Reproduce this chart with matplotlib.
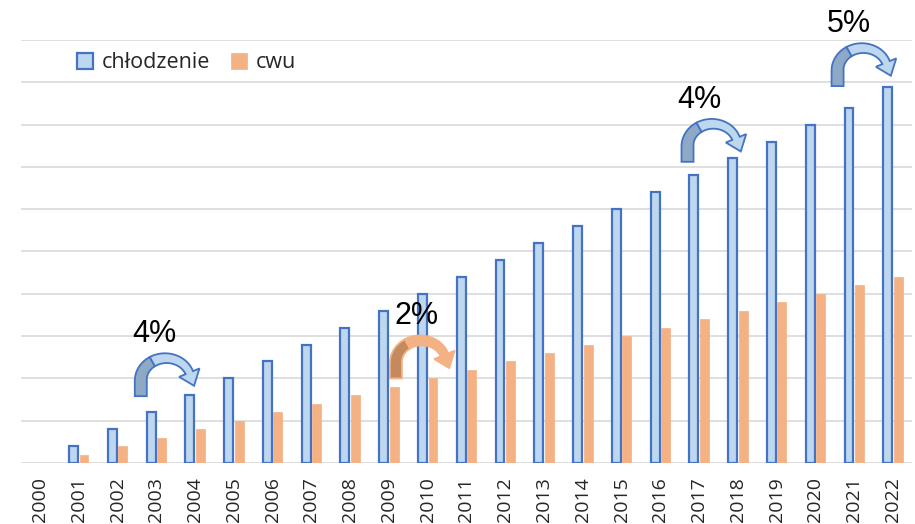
import matplotlib.pyplot as plt
import numpy as np
from matplotlib.patches import Polygon
from matplotlib.transforms import IdentityTransform

years = [str(y) for y in range(2000, 2023)]
chlodzenie = [np.nan, 0.4, 0.8, 1.2, 1.6, 2.0, 2.4, 2.8, 3.2, 3.6, 4.0, 4.4, 4.8,
              5.2, 5.6, 6.0, 6.4, 6.8, 7.2, 7.6, 8.0, 8.4, 8.9]
cwu = [np.nan, 0.2, 0.4, 0.6, 0.8, 1.0, 1.2, 1.4, 1.6, 1.8, 2.0, 2.2, 2.4,
       2.6, 2.8, 3.0, 3.2, 3.4, 3.6, 3.8, 4.0, 4.2, 4.4]

# growth annotations
growth_labels = ['4%', '2%', '4%', '5%']
growth_series = ['chl', 'cwu', 'chl', 'chl']
# where the foot of each curved arrow sits (category index, value)
arrow_x = [2.6, 9.18, 16.7, 20.57]
arrow_y = [1.58, 2.0, 7.12, 8.91]
label_dx = [14, 21, 12, 11]  # px shift of the % text from the foot

plt.rcParams['font.family'] = ['Open Sans', 'DejaVu Sans']

fig = plt.figure(figsize=(9.15, 5.24), dpi=100)
ax = fig.add_axes([20.6 / 915, 1 - 463 / 524, (912.4 - 20.6) / 915, (463 - 40) / 524])

x = np.arange(len(years))
w = 0.23
ax.bar(x - 0.135, chlodzenie, w, color='#bdd7ee', edgecolor='#4472c4', linewidth=1.6,
       label='chłodzenie', zorder=3)
ax.bar(x + 0.135, cwu, w, color='#f4b183', edgecolor='#f4b183', linewidth=0.5,
       label='cwu', zorder=3)

ax.set_xlim(-0.5, len(years) - 0.5)
ax.set_ylim(0, 10)
ax.set_yticks(np.arange(0, 11, 1))
ax.set_yticklabels([])
ax.tick_params(axis='y', length=0)
ax.set_xticks(x)
ax.set_xticklabels(years, rotation=90, fontsize=14, color='#262626')
ax.tick_params(axis='x', length=0, pad=10)
ax.grid(axis='y', color='#d9d9d9', linewidth=1.2, zorder=0)
for s in ax.spines.values():
    s.set_visible(False)

ax.legend(loc='upper left', bbox_to_anchor=(0.041, 1.017), ncol=2, frameon=False,
          fontsize=15.5, handlelength=0.75, handleheight=0.75, columnspacing=1.0,
          handletextpad=0.4, labelcolor='#262626')


def curved_arrow(fx, fy, dark, light, edge):
    # builds the curved arrow in pixels, foot bottom centre at (fx, fy)
    L, rx, ry = 16, 25, 22
    cx, cy = fx + rx, fy + L
    pts, nrm, hws = [], [], []
    for t in np.linspace(0, 1, 6):
        pts.append((fx, fy + L * t))
        nrm.append((-1.0, 0.0))
        hws.append(6.0)
    th = np.radians(np.linspace(180, 20, 40))
    for k, a in enumerate(th):
        pts.append((cx + rx * np.cos(a), cy + ry * np.sin(a)))
        n = np.array([np.cos(a) / rx, np.sin(a) / ry])
        n = n / np.hypot(*n)
        nrm.append(tuple(n))
        hws.append(6.0 - 2.0 * k / (len(th) - 1))
    pts = np.array(pts)
    nrm = np.array(nrm)
    hws = np.array(hws)
    outer = pts + nrm * hws[:, None]
    inner = pts - nrm * hws[:, None]
    a = th[-1]
    tang = np.array([np.sin(a), -np.cos(a)])
    end = pts[-1]
    n_end = nrm[-1]
    tip = end + tang * 14
    wing_o = end + n_end * 11
    wing_i = end - n_end * 11
    split = 6 + 14
    dark_poly = np.vstack([outer[:split + 1], inner[:split + 1][::-1]])
    light_poly = np.vstack([outer[split:], [wing_o, tip, wing_i], inner[split:][::-1]])
    for poly, fc in ((dark_poly, dark), (light_poly, light)):
        fig.patches.append(Polygon(poly, closed=True, facecolor=fc, edgecolor=edge,
                                   linewidth=1.3, transform=IdentityTransform(),
                                   figure=fig, zorder=5))


for lab, ser, axx, ayy, dx in zip(growth_labels, growth_series, arrow_x, arrow_y, label_dx):
    fx, fy = ax.transData.transform((axx, ayy))
    if ser == 'chl':
        curved_arrow(fx, fy, '#8ea9c6', '#bdd7ee', '#4472c4')
    else:
        curved_arrow(fx, fy, '#c48a5e', '#f4b183', '#f4b183')
    tx, ty = ax.transData.inverted().transform((fx + dx, fy + 62))
    ax.text(tx, ty, lab, fontsize=22, ha='center', va='center',
            family='Liberation Sans', color='black', zorder=6, clip_on=False)

fig.savefig('out.png', dpi=100)
